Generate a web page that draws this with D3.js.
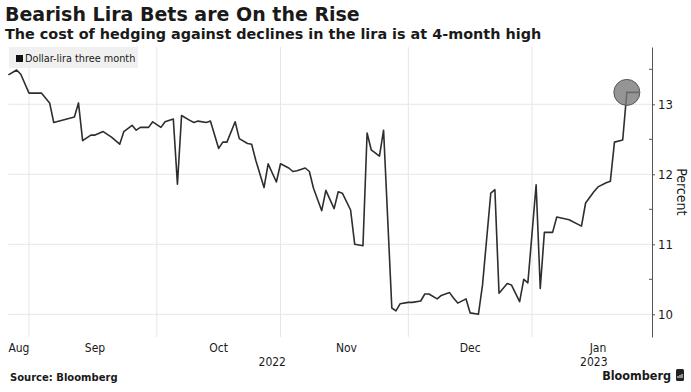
<!DOCTYPE html>
<html lang='en'>
	<head>
		<meta charset='utf-8'>
		<title>Bearish Lira Bets are On the Rise</title>
		<script type='text/javascript' src='https://d3js.org/d3.v7.min.js'></script>
		<style type='text/css'>
			body {
				margin: 0;
				background: white;
			}
			svg text {
				fill: #1a1a1a;
			}
			.title {
				font-family: 'DejaVu Sans', sans-serif;
				font-weight: bold;
			}
			.tick-label, .axis text {
				font-family: 'DejaVu Sans Condensed', 'Liberation Sans Narrow', sans-serif;
				font-size: 12px;
			}
		</style>
	</head>
	<body>
		<script type='text/javascript'>
			// dollar-lira three month (vertices of the line)
			var dates = [
				'2022-08-11', '2022-08-13', '2022-08-14', '2022-08-16', '2022-08-19', '2022-08-21', '2022-08-22',
				'2022-08-27', '2022-08-28', '2022-08-29', '2022-08-31', '2022-09-01', '2022-09-03', '2022-09-05',
				'2022-09-07', '2022-09-08', '2022-09-10', '2022-09-11', '2022-09-12', '2022-09-14', '2022-09-15',
				'2022-09-17', '2022-09-18', '2022-09-20', '2022-09-21', '2022-09-22', '2022-09-24', '2022-09-25',
				'2022-09-26', '2022-09-28', '2022-09-29', '2022-10-01', '2022-10-02', '2022-10-03', '2022-10-05',
				'2022-10-06', '2022-10-08', '2022-10-09', '2022-10-10', '2022-10-12', '2022-10-13', '2022-10-15',
				'2022-10-16', '2022-10-18', '2022-10-19', '2022-10-20', '2022-10-22', '2022-10-23', '2022-10-24',
				'2022-10-26', '2022-10-27', '2022-10-29', '2022-10-30', '2022-10-31', '2022-11-02', '2022-11-03',
				'2022-11-05', '2022-11-06', '2022-11-07', '2022-11-09', '2022-11-10', '2022-11-12', '2022-11-13',
				'2022-11-14', '2022-11-16', '2022-11-17', '2022-11-19', '2022-11-20', '2022-11-21', '2022-11-23',
				'2022-11-24', '2022-11-26', '2022-11-27', '2022-11-28', '2022-11-30', '2022-12-01', '2022-12-03',
				'2022-12-04', '2022-12-06', '2022-12-07', '2022-12-08', '2022-12-10', '2022-12-11', '2022-12-13',
				'2022-12-14', '2022-12-15', '2022-12-17', '2022-12-18', '2022-12-19', '2022-12-21', '2022-12-22',
				'2022-12-25', '2022-12-28', '2022-12-29', '2022-12-31', '2023-01-01', '2023-01-03', '2023-01-04',
				'2023-01-05', '2023-01-07', '2023-01-08', '2023-01-11'
			];
			var values = [
				13.42, 13.49, 13.43, 13.16, 13.16, 13.02, 12.74,
				12.82, 13.02, 12.48, 12.56, 12.56, 12.61, 12.53,
				12.43, 12.61, 12.70, 12.63, 12.67, 12.67, 12.75,
				12.67, 12.75, 12.79, 11.86, 12.84, 12.77, 12.74,
				12.76, 12.74, 12.76, 12.37, 12.46, 12.46, 12.75,
				12.51, 12.44, 12.43, 12.20, 11.81, 12.15, 11.89,
				12.15, 12.09, 12.04, 12.05, 12.09, 12.04, 11.80,
				11.48, 11.77, 11.51, 11.75, 11.73, 11.49, 11.00,
				10.98, 12.59, 12.35, 12.26, 12.63, 10.09, 10.05,
				10.15, 10.17, 10.17, 10.19, 10.29, 10.29, 10.22,
				10.27, 10.31, 10.23, 10.16, 10.22, 10.02, 10.00,
				10.42, 11.73, 11.78, 10.30, 10.44, 10.42, 10.18,
				10.50, 10.45, 11.85, 10.37, 11.17, 11.17, 11.39,
				11.35, 11.26, 11.59, 11.75, 11.82, 11.88, 11.90,
				12.46, 12.49, 13.17, 13.17
			];
			var highlightDate = '2023-01-08';

			var yTicks = [10, 11, 12, 13];
			var yMinorTicks = [10.5, 11.5, 12.5, 13.5];
			var monthTicks = ['2022-08-01', '2022-09-01', '2022-10-01', '2022-11-01', '2022-12-01', '2023-01-01'];
			var monthLabels = ['Aug', 'Sep', 'Oct', 'Nov', 'Dec', 'Jan'];
			var gridDates = ['2022-08-16', '2022-09-16', '2022-10-16', '2022-11-16', '2022-12-16'];
			var yearDates = ['2022-10-14', '2022-12-31'];
			var yearLabels = ['2022', '2023'];

			var w = 691;
			var h = 392;
			var plotLeft = 8.4;
			var plotRight = 639.2;
			var axisX = 652;
			var plotTop = 47;
			var plotBottom = 337;

			var parse = d3.timeParse('%Y-%m-%d');
			var dataset = dates.map(function(d, i) {
				return { date: parse(d), value: values[i] };
			});

			var svg = d3.select('body')
									.append('svg')
									.attr('width', w)
									.attr('height', h);

			var xScale = d3.scaleTime()
										.domain([parse('2022-08-11'), parse('2023-01-11')])
										.range([plotLeft, plotRight]);

			var yScale = d3.scaleLinear()
										.domain([10, 13])
										.range([314.3, 104.3]);

			// gridlines
			svg.selectAll('line.hgrid')
				.data(yTicks)
				.enter()
				.append('line')
				.attr('class', 'hgrid')
				.attr('x1', plotLeft)
				.attr('x2', axisX)
				.attr('y1', function(d) { return yScale(d); })
				.attr('y2', function(d) { return yScale(d); })
				.attr('stroke', '#e6e6e6')
				.attr('stroke-width', 1);

			svg.selectAll('line.vgrid')
				.data(gridDates)
				.enter()
				.append('line')
				.attr('class', 'vgrid')
				.attr('x1', function(d) { return xScale(parse(d)); })
				.attr('x2', function(d) { return xScale(parse(d)); })
				.attr('y1', plotTop)
				.attr('y2', plotBottom)
				.attr('stroke', '#e6e6e6')
				.attr('stroke-width', 1);

			// titles
			svg.append('text')
				.attr('class', 'title')
				.attr('x', 5)
				.attr('y', 21)
				.style('font-size', '19px')
				.text('Bearish Lira Bets are On the Rise');

			svg.append('text')
				.attr('class', 'title')
				.attr('x', 5)
				.attr('y', 38.5)
				.style('font-size', '14.4px')
				.text('The cost of hedging against declines in the lira is at 4-month high');

			// legend
			var legend = svg.append('g');
			legend.append('rect')
				.attr('x', 9)
				.attr('y', 47)
				.attr('width', 129)
				.attr('height', 21)
				.attr('fill', '#f0f0f0');
			legend.append('rect')
				.attr('x', 16)
				.attr('y', 55)
				.attr('width', 7)
				.attr('height', 7)
				.attr('fill', '#111');
			legend.append('text')
				.attr('x', 25)
				.attr('y', 62)
				.style('font-family', "'DejaVu Sans Condensed', sans-serif")
				.style('font-size', '10.8px')
				.text('Dollar-lira three month');

			// right axis
			var yAxis = d3.axisRight(yScale)
										.tickValues(yTicks)
										.tickSize(3)
										.tickPadding(3)
										.tickFormat(d3.format('d'));

			var axisScale = yScale.copy()
										.domain([yScale.invert(plotBottom), yScale.invert(plotTop)])
										.range([plotBottom, plotTop]);

			var axisG = svg.append('g')
				.attr('class', 'axis')
				.attr('transform', 'translate(' + axisX + ',0)')
				.call(yAxis.scale(axisScale).tickSizeOuter(0));
			axisG.select('.domain').attr('stroke', '#555');
			axisG.selectAll('.tick line').attr('stroke', '#555');
			axisG.selectAll('.tick text')
				.style('font-size', '13px')
				.attr('fill', '#222');

			svg.selectAll('line.minor')
				.data(yMinorTicks)
				.enter()
				.append('line')
				.attr('class', 'minor')
				.attr('x1', axisX - 3)
				.attr('x2', axisX)
				.attr('y1', function(d) { return yScale(d); })
				.attr('y2', function(d) { return yScale(d); })
				.attr('stroke', '#555');

			svg.append('text')
				.attr('transform', 'translate(677,' + yScale(11.75) + ') rotate(90)')
				.attr('text-anchor', 'middle')
				.style('font-family', "'DejaVu Sans Condensed', sans-serif")
				.style('font-size', '14px')
				.text('Percent');

			// x labels
			svg.selectAll('text.month')
				.data(monthTicks)
				.enter()
				.append('text')
				.attr('class', 'tick-label month')
				.attr('x', function(d) { return Math.max(xScale(parse(d)), plotLeft); })
				.attr('y', 352)
				.attr('text-anchor', function(d) { return xScale(parse(d)) < plotLeft ? 'start' : 'middle'; })
				.text(function(d, i) { return monthLabels[i]; });

			svg.selectAll('text.year')
				.data(yearDates)
				.enter()
				.append('text')
				.attr('class', 'tick-label year')
				.attr('x', function(d) { return xScale(parse(d)); })
				.attr('y', 366)
				.attr('text-anchor', 'middle')
				.text(function(d, i) { return yearLabels[i]; });

			// line
			var line = d3.line()
									.x(function(d) { return xScale(d.date); })
									.y(function(d) { return yScale(d.value); });

			svg.append('path')
				.datum(dataset)
				.attr('d', line)
				.attr('fill', 'none')
				.attr('stroke', '#2e2e2e')
				.attr('stroke-width', 1.6)
				.attr('stroke-linejoin', 'round');

			// highlight circle
			var last = dataset.filter(function(d) { return +d.date === +parse(highlightDate); })[0];
			svg.append('circle')
				.attr('cx', xScale(last.date))
				.attr('cy', yScale(last.value))
				.attr('r', 13)
				.attr('fill', '#7a7a7a')
				.attr('fill-opacity', 0.8)
				.attr('stroke', '#555')
				.attr('stroke-width', 1);

			// footer
			svg.append('text')
				.attr('class', 'title')
				.attr('x', 10)
				.attr('y', 381)
				.style('font-size', '10px')
				.text('Source: Bloomberg');

			svg.append('text')
				.attr('x', 671)
				.attr('y', 380)
				.attr('text-anchor', 'end')
				.style('font-family', "'DejaVu Sans Condensed', sans-serif")
				.style('font-weight', 'bold')
				.style('font-size', '12.5px')
				.text('Bloomberg');

			var logo = svg.append('g').attr('transform', 'translate(676,369)');
			logo.append('rect')
				.attr('width', 8)
				.attr('height', 12)
				.attr('rx', 1.5)
				.attr('fill', '#222');
			logo.selectAll('line')
				.data([2, 4, 6])
				.enter()
				.append('line')
				.attr('x1', function(d) { return d; })
				.attr('x2', function(d) { return d; })
				.attr('y1', function(d, i) { return 7 - i; })
				.attr('y2', 9)
				.attr('stroke', 'white')
				.attr('stroke-width', 1);
		</script>
	</body>
</html>
